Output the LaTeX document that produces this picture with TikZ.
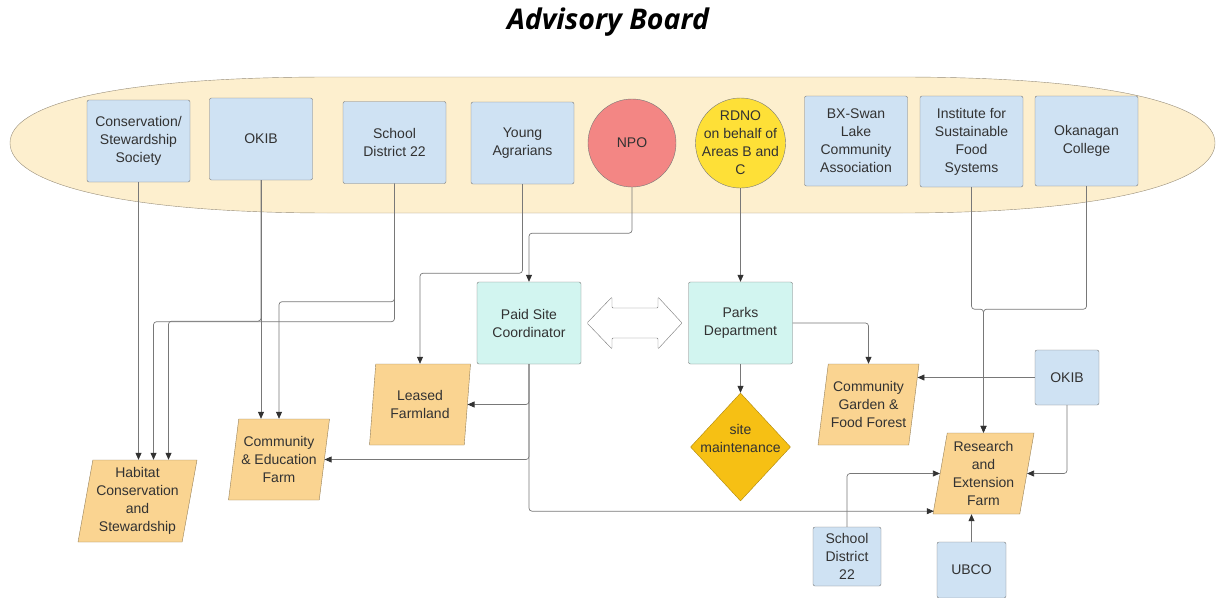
\documentclass[tikz,border=0pt]{standalone}
\usepackage{fontspec}
\setmainfont{Liberation Sans}
\newfontfamily\titlefont{Open Sans}
\usetikzlibrary{shapes.geometric,arrows.meta,calc}

\definecolor{boardfill}{RGB}{253,239,206}
\definecolor{boardline}{RGB}{150,140,120}
\definecolor{orgblue}{RGB}{207,226,243}
\definecolor{staffcyan}{RGB}{210,245,240}
\definecolor{landorange}{RGB}{250,212,145}
\definecolor{maintgold}{RGB}{246,192,20}
\definecolor{npored}{RGB}{243,134,132}
\definecolor{rdnoyellow}{RGB}{254,224,55}
\definecolor{edge}{RGB}{120,120,120}
\definecolor{ink}{RGB}{50,50,50}

\begin{document}
\begin{tikzpicture}[x=1pt,y=-1pt,
        every node/.style={font=\fontsize{14}{18}\selectfont,text=ink,align=center,inner sep=0pt},
        org/.style={draw=edge,fill=orgblue,rounded corners=2pt,minimum width=103pt,minimum height=82pt},
        staff/.style={draw=edge,fill=staffcyan,rounded corners=2pt,minimum width=104pt,minimum height=82pt},
        land/.style={trapezium,trapezium left angle=77.5,trapezium right angle=102.5,trapezium stretches body,
            draw=landorange!60!black,fill=landorange,minimum width=101pt,minimum height=81pt},
        conn/.style={draw=edge,line width=0.7pt,rounded corners=3pt,-{Triangle[length=7pt,width=6pt,color=ink]}}]

        \useasboundingbox (0,0) rectangle (1217,597);

        \node[font=\titlefont\bfseries\itshape\fontsize{28.5}{32}\selectfont,text=black] (title) at (608,22) {Advisory Board};

        % the board
        \draw[draw=boardline,fill=boardfill] (330,77) .. controls (110,77) and (10,105) .. (10,143)
            .. controls (10,181) and (110,213) .. (330,213) -- (900,213)
            .. controls (1115,213) and (1215,181) .. (1215,143)
            .. controls (1215,105) and (1115,77) .. (900,77) -- cycle;

        \node[org] (cons) at (138.5,141) {Conservation/\\Stewardship\\Society};
        \node[org] (okib) at (261,139) {OKIB};
        \node[org] (sd) at (394.5,142.5) {School\\District 22};
        \node[org] (young) at (522.5,143) {Young\\Agrarians};
        \node[circle,draw=edge,fill=npored,minimum size=88pt] (npo) at (632,143) {NPO};
        \node[circle,draw=edge,fill=rdnoyellow,minimum size=90pt] (rdno) at (740.5,143) {};
        \node (rdnotext) at (rdno.center) {RDNO\\on behalf of\\Areas B and\\C};
        \node[org,minimum height=90pt] (bx) at (856,141) {BX-Swan\\Lake\\Community\\Association};
        \node[org,minimum height=91pt] (isfs) at (971.5,141.5) {Institute for\\Sustainable\\Food\\Systems};
        \node[org,minimum height=90pt] (okc) at (1086.5,141) {Okanagan\\College};

        \node[staff] (psc) at (529,323) {Paid Site\\Coordinator};
        \node[staff] (parks) at (740.5,323) {Parks\\Department};
        % two-way arrow between the two staff boxes
        \draw[draw=edge,fill=white,rounded corners=1pt] (587,323) -- (612,297) -- (612,308) -- (658,308)
            -- (658,297) -- (682,323) -- (658,349) -- (658,338) -- (612,338) -- (612,349) -- cycle;

        \node[diamond,draw=maintgold!70!black,fill=maintgold,minimum width=100pt,minimum height=108pt] (maint) at (740.5,447) {};
        \node (mainttext) at ([yshift=9pt]maint.center) {site\\maintenance};

        \node[land] (leased) at (420,404.5) {Leased\\Farmland};
        \node[land] (cefarm) at (279,459.5) {Community\\\& Education\\Farm};
        \node[land,minimum width=119pt,minimum height=82pt] (habitat) at (137.5,501) {Habitat\\Conservation\\and\\Stewardship};
        \node[land] (garden) at (868.5,404.5) {Community\\Garden \&\\Food Forest};
        \node[land] (research) at (983.5,473.5) {Research\\and\\Extension\\Farm};

        \node[org,minimum width=64pt,minimum height=55pt] (okibr) at (1067,377.5) {OKIB};
        \node[org,minimum width=68pt,minimum height=59pt] (sdr) at (847,556.5) {School\\District\\22};
        \node[org,minimum width=69pt,minimum height=56pt] (ubco) at (971.5,570) {UBCO};

        % board members down to the projects
        \draw[conn] (cons.south) -- (cons.south |- habitat.north);
        \draw[conn] (okib.south) -- (okib.south |- cefarm.north);
        \draw[conn] (okib.south) -- ++(0,141) -| ([xshift=31pt]habitat.north);
        \draw[conn] (sd.south) -- ++(0,118) -| (cefarm.north);
        \draw[conn] (sd.south) -- ++(0,138) -| ([xshift=16pt]habitat.north);
        \draw[conn] (young.south) -- ++(0,89) -| (leased.north);
        \draw[conn] (npo.south) -- ++(0,46) -| (psc.north);
        \draw[conn] (rdno.south) -- (parks.north);
        \draw[conn] (isfs.south) -- ++(0,122) -| (research.north);
        \draw[conn] (okc.south) -- ++(0,123) -| (research.north);

        \draw[conn] (parks.south) -- (maint.north);
        \draw[conn] (parks.east) -| (garden.north);
        \draw[conn] (psc.south) |- (leased);
        \draw[conn] (psc.south) |- (cefarm);
        \draw[conn] (psc.south) |- ($(research.bottom left corner)+(1,-3)$);

        \coordinate (gardenin) at ($(garden.top right corner)!0.17!(garden.bottom right corner)$);
        \draw[conn] (okibr.west) -- (okibr.west -| gardenin);
        \draw[conn] (okibr.south) |- (research);
        \draw[conn] (sdr.north) |- (research);
        \draw[conn] (ubco.north) -- (ubco.north |- research.south);

    \end{tikzpicture}
\end{document}
